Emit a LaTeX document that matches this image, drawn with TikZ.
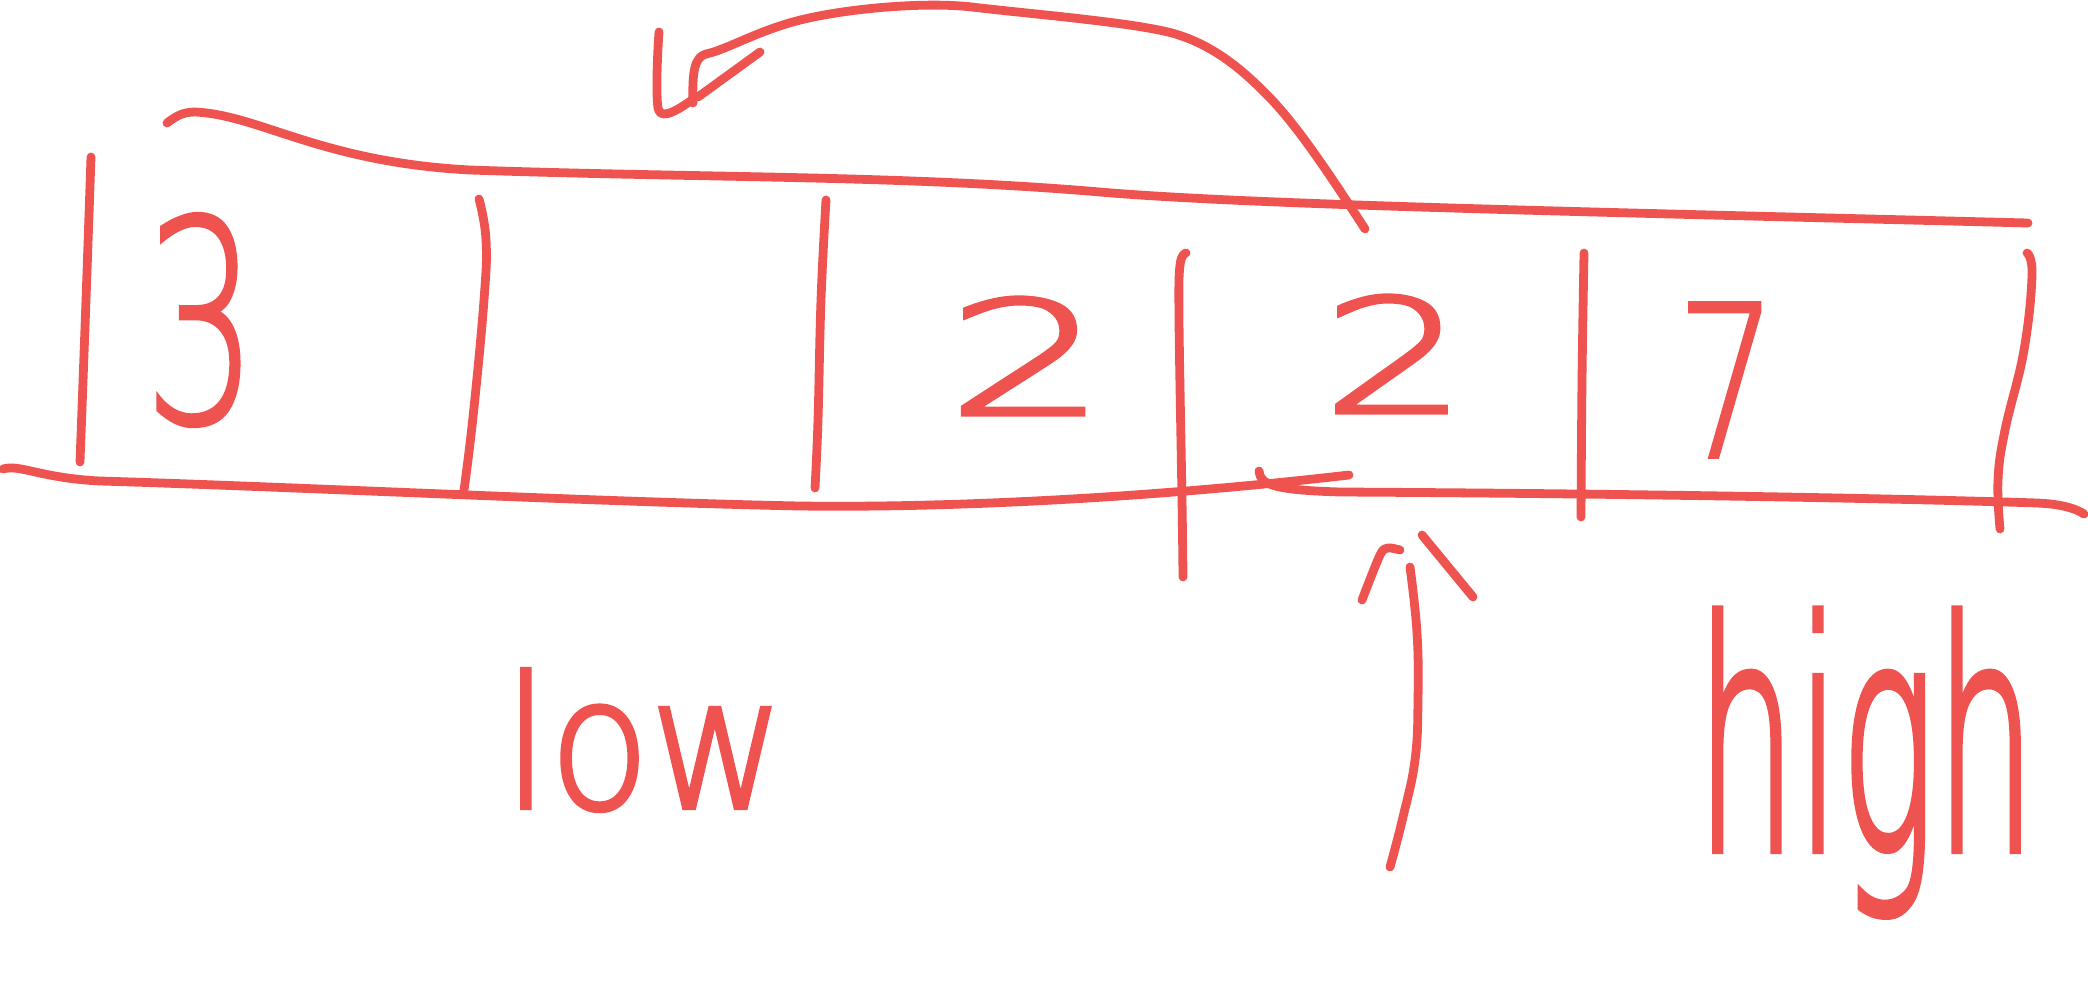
\documentclass[tikz,border=0pt]{standalone}
\usepackage{fontspec}
\usepackage{graphicx}
\newfontfamily\handA{DejaVu Sans ExtraLight}[FakeBold=1.3]
\newfontfamily\handB{DejaVu Sans ExtraLight}[FakeBold=2.4]
\newfontfamily\handC{DejaVu Sans ExtraLight}[FakeBold=1.8]
\newfontfamily\handD{DejaVu Sans ExtraLight}[FakeBold=2.6]
\definecolor{ink}{RGB}{239,83,80}
\begin{document}
\begin{tikzpicture}[x=0.01cm,y=-0.01cm,
  pen/.style={draw=ink,line width=2.5pt,line cap=round,line join=round},
  hand/.style={text=ink,inner sep=0pt}]
\useasboundingbox (0,0) rectangle (2088,1000);
% top line of the array
\draw[pen] (167,123) .. controls (175,117) and (182,112) .. (195,112)
  .. controls (260,115) and (320,162) .. (470,170)
  .. controls (700,178) and (900,175) .. (1100,192)
  .. controls (1250,205) and (1600,212) .. (2028,223);
% bottom line, two strokes
\draw[pen] (3,469) .. controls (20,464) and (40,478) .. (100,481)
  .. controls (300,487) and (600,502) .. (800,506)
  .. controls (950,508) and (1150,498) .. (1349,475);
\draw[pen] (1259,471) .. controls (1260,485) and (1275,490) .. (1340,492)
  .. controls (1700,494) and (1950,500) .. (2037,503)
  .. controls (2060,504) and (2075,508) .. (2084,514);
% cell separators
\draw[pen] plot[smooth,tension=0.7] coordinates {(91,157) (86,300) (80,462)};
\draw[pen] plot[smooth,tension=0.7] coordinates {(479,199) (486,240) (484,300) (473,417) (464,490)};
\draw[pen] plot[smooth,tension=0.7] coordinates {(826,200) (821,300) (818,420) (815,488)};
\draw[pen] plot[smooth,tension=0.6] coordinates {(1186,253) (1180,265) (1179,320) (1182,500) (1183,577)};
\draw[pen] plot[smooth,tension=0.7] coordinates {(1584,253) (1582,380) (1581,517)};
\draw[pen] plot[smooth,tension=0.7] coordinates {(2027,253) (2032,275) (2024,350) (2005,430) (1998,480) (2000,529)};
% curved arrow on top
\draw[pen] (1365,229) .. controls (1330,175) and (1300,130) .. (1272,100)
  .. controls (1245,72) and (1215,45) .. (1172,33)
  .. controls (1130,22) and (1030,14) .. (972,7)
  .. controls (920,1) and (830,10) .. (786,24)
  .. controls (750,35) and (725,50) .. (706,54)
  .. controls (695,57) and (692,70) .. (693,103);
\draw[pen] (760,52) -- (698,97);
\draw[pen] (659,32) .. controls (657,60) and (656,95) .. (658,108)
  .. controls (660,117) and (668,117) .. (692,100);
% upward arrow
\draw[pen] plot[smooth,tension=0.7] coordinates {(1410,567) (1417,633) (1418,700) (1415,760) (1403,817) (1390,867)};
\draw[pen] plot[smooth,tension=0.5] coordinates {(1362,600) (1380,555) (1388,548) (1400,550)};
\draw[pen] (1422,535) -- (1473,597);
% values
\node[hand] (d3) at (201,320) {\handA\fontsize{80pt}{80pt}\selectfont\scalebox{0.64}[1]{3}};
\node[hand] (d2a) at (1027,356) {\handB\fontsize{45pt}{45pt}\selectfont\scalebox{1.6}[1]{2}};
\node[hand] (d2b) at (1395,354) {\handB\fontsize{45pt}{45pt}\selectfont\scalebox{1.45}[1]{2}};
\node[hand] (d7) at (1727,380) {\handC\fontsize{60pt}{60pt}\selectfont\scalebox{0.75}[1]{7}};
% labels
\node[hand,anchor=base] (low) at (644,808) {\handB\fontsize{52pt}{52pt}\selectfont\scalebox{0.9}[1]{low}};
\node[hand,anchor=base] (high) at (1866,850) {\handD\fontsize{90pt}{90pt}\selectfont\scalebox{0.5}[1]{high}};
\end{tikzpicture}
\end{document}
